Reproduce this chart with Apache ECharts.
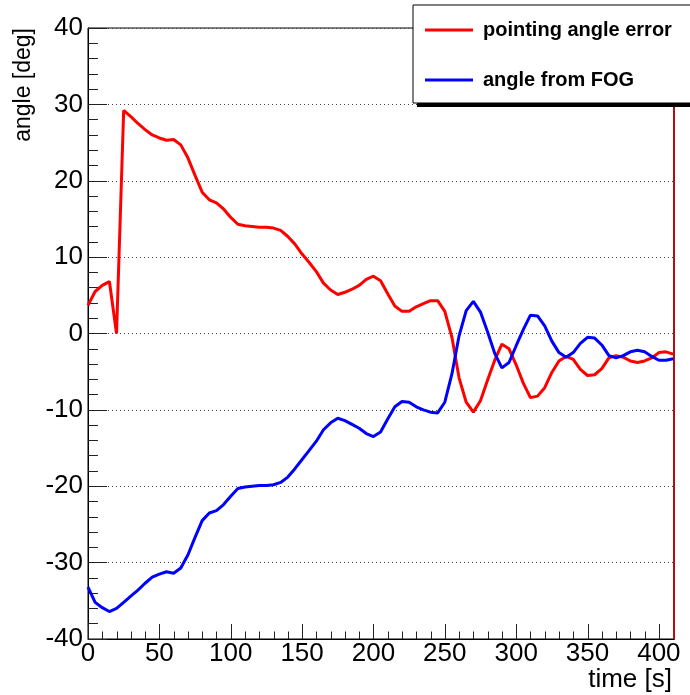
<!DOCTYPE html>
<html>
<head>
<meta charset="utf-8">
<script src="https://cdn.jsdelivr.net/npm/echarts@6/dist/echarts.min.js"></script>
<style>
  html, body { margin: 0; padding: 0; background: #fff; }
  #chart { width: 690px; height: 695px; }
</style>
</head>
<body>
<div id="chart"></div>
<script>
// Sample times [s]
var timeS = [0, 5, 10, 15, 20, 25, 30, 35, 40, 45, 50, 55, 60, 65, 70, 75, 80, 85, 90, 95,
  100, 105, 110, 115, 120, 125, 130, 135, 140, 145, 150, 155, 160, 165, 170, 175, 180, 185, 190, 195,
  200, 205, 210, 215, 220, 225, 230, 235, 240, 245, 250, 255, 260, 265, 270, 275, 280, 285, 290, 295,
  300, 305, 310, 315, 320, 325, 330, 335, 340, 345, 350, 355, 360, 365, 370, 375, 380, 385, 390, 395,
  400, 405, 410];

// Pointing angle error [deg]
var pointingError = [3.7, 5.5, 6.3, 6.8, 0.0, 29.2, 28.4, 27.5, 26.7, 26.0, 25.6, 25.3, 25.4, 24.7, 23.0, 20.7, 18.5, 17.5, 17.1, 16.3,
  15.2, 14.3, 14.1, 14.0, 13.9, 13.9, 13.8, 13.5, 12.7, 11.7, 10.4, 9.3, 8.1, 6.6, 5.7, 5.1, 5.4, 5.8, 6.3, 7.1,
  7.5, 6.9, 5.2, 3.6, 2.9, 2.9, 3.5, 3.9, 4.3, 4.3, 2.9, -0.5, -5.8, -9.0, -10.3, -8.8, -6.1, -3.5, -1.4, -2.0,
  -4.1, -6.5, -8.4, -8.2, -7.1, -5.1, -3.6, -3.0, -3.4, -4.7, -5.5, -5.4, -4.6, -3.2, -2.9, -3.1, -3.6, -3.8, -3.6, -3.2,
  -2.5, -2.4, -2.7];

// Angle from FOG [deg]
var fogAngle = [-33.2, -35.2, -35.9, -36.4, -36.0, -35.2, -34.4, -33.6, -32.7, -31.9, -31.5, -31.2, -31.4, -30.7, -29.0, -26.7, -24.5, -23.5, -23.2, -22.4,
  -21.3, -20.3, -20.1, -20.0, -19.9, -19.9, -19.8, -19.5, -18.8, -17.7, -16.5, -15.3, -14.1, -12.6, -11.7, -11.1, -11.4, -11.9, -12.4, -13.1,
  -13.5, -12.9, -11.2, -9.6, -8.9, -9.0, -9.6, -10.0, -10.3, -10.4, -9.0, -5.3, -0.3, 3.0, 4.2, 2.8, 0.2, -2.6, -4.5, -3.8,
  -1.6, 0.5, 2.4, 2.3, 1.0, -1.0, -2.5, -3.1, -2.5, -1.3, -0.5, -0.6, -1.5, -2.9, -3.2, -2.9, -2.4, -2.2, -2.4, -3.0,
  -3.5, -3.5, -3.3];

// Time-axis tick positions [s]
var timeMajorTicks = [0, 50, 100, 150, 200, 250, 300, 350, 400];
var timeMinorTicks = [10, 20, 30, 40, 60, 70, 80, 90, 110, 120, 130, 140, 160, 170, 180, 190,
  210, 220, 230, 240, 260, 270, 280, 290, 310, 320, 330, 340, 360, 370, 380, 390];

var seriesNames = ['pointing angle error', 'angle from FOG'];
var xTitle = 'time [s]';
var yTitle = 'angle [deg]';

var X_MIN = 0, X_MAX = 410.6, Y_MIN = -40, Y_MAX = 40;
var FONT = '"Liberation Sans", Arial, Helvetica, sans-serif';

function pairs(xs, ys) {
  return xs.map(function (x, i) { return [x, ys[i]]; });
}

// Short upward tick mark on the bottom edge, positioned through the axis scales
function tickRenderer(len) {
  return function (params, api) {
    var p = api.coord([api.value(0), Y_MIN]);
    var x = Math.round(p[0]) + 0.5;
    return {
      type: 'line',
      shape: { x1: x, y1: p[1], x2: x, y2: p[1] - len },
      style: { stroke: '#222', lineWidth: 1 }
    };
  };
}

var chart = echarts.init(document.getElementById('chart'), null, { renderer: 'canvas' });

chart.setOption({
  animation: false,
  backgroundColor: '#ffffff',
  grid: {
    left: 88, right: 16, top: 28, bottom: 56,
    show: true, borderColor: '#000', borderWidth: 1, backgroundColor: 'transparent'
  },
  legend: {
    orient: 'vertical',
    left: 413,
    top: 5,
    padding: [15, 30, 13, 12],
    itemGap: 30,
    itemWidth: 48,
    itemHeight: 3,
    icon: 'rect',
    backgroundColor: '#ffffff',
    borderColor: '#000000',
    borderWidth: 1,
    textStyle: { fontFamily: FONT, fontSize: 20, fontWeight: 'bold', color: '#000', padding: [0, 0, 0, 5] },
    data: seriesNames
  },
  xAxis: {
    type: 'value', min: X_MIN, max: X_MAX, interval: 50, position: 'bottom',
    axisLine: { show: true, onZero: false, lineStyle: { color: '#000', width: 1 } },
    axisTick: { show: false },
    axisLabel: { margin: 2, fontFamily: FONT, fontSize: 26, color: '#000', showMaxLabel: false },
    splitLine: { show: false }
  },
  yAxis: [
    {
      type: 'value', min: Y_MIN, max: Y_MAX, interval: 10, position: 'left',
      axisLine: { show: true, onZero: false, lineStyle: { color: '#000', width: 1 } },
      axisTick: { show: true, inside: true, length: 19, lineStyle: { color: '#222', width: 1 } },
      minorTick: { show: true, splitNumber: 5, length: 10, lineStyle: { color: '#222', width: 1 } },
      axisLabel: { margin: 5, fontFamily: FONT, fontSize: 26, color: '#000' },
      splitLine: { show: true, lineStyle: { color: '#444', width: 1, type: [1, 3] } }
    },
    {
      type: 'value', min: Y_MIN, max: Y_MAX, position: 'right',
      axisLine: { show: true, onZero: false, lineStyle: { color: '#b01010', width: 2 } },
      axisTick: { show: false },
      axisLabel: { show: false },
      splitLine: { show: false }
    }
  ],
  graphic: [
    {
      // drop shadow behind the legend box
      type: 'rect', z: 3, silent: true,
      shape: { x: 417, y: 9, width: 300, height: 98 },
      style: { fill: '#000000' }
    },
    {
      type: 'text', x: 24, y: 28, rotation: Math.PI / 2,
      style: {
        text: yTitle, font: '23px ' + FONT, fill: '#000',
        textAlign: 'right', align: 'right', textVerticalAlign: 'middle', verticalAlign: 'middle'
      }
    },
    {
      type: 'text', x: 672, y: 680,
      style: {
        text: xTitle, font: '26px ' + FONT, fill: '#000',
        textAlign: 'right', align: 'right', textVerticalAlign: 'middle', verticalAlign: 'middle'
      }
    }
  ],
  series: [
    {
      name: 'time ticks (major)', type: 'custom', xAxisIndex: 0, yAxisIndex: 0,
      silent: true, clip: false, z: 3,
      encode: { x: 0, y: 1 },
      data: timeMajorTicks.map(function (t) { return [t, Y_MIN]; }),
      renderItem: tickRenderer(15)
    },
    {
      name: 'time ticks (minor)', type: 'custom', xAxisIndex: 0, yAxisIndex: 0,
      silent: true, clip: false, z: 3,
      encode: { x: 0, y: 1 },
      data: timeMinorTicks.map(function (t) { return [t, Y_MIN]; }),
      renderItem: tickRenderer(7.5)
    },
    {
      name: seriesNames[0], type: 'line', xAxisIndex: 0, yAxisIndex: 0,
      data: pairs(timeS, pointingError),
      showSymbol: false, symbol: 'none', smooth: false,
      lineStyle: { color: '#ff0000', width: 3 }, itemStyle: { color: '#ff0000' }
    },
    {
      name: seriesNames[1], type: 'line', xAxisIndex: 0, yAxisIndex: 0,
      data: pairs(timeS, fogAngle),
      showSymbol: false, symbol: 'none', smooth: false,
      lineStyle: { color: '#0000ff', width: 3 }, itemStyle: { color: '#0000ff' }
    }
  ]
});
</script>
</body>
</html>
